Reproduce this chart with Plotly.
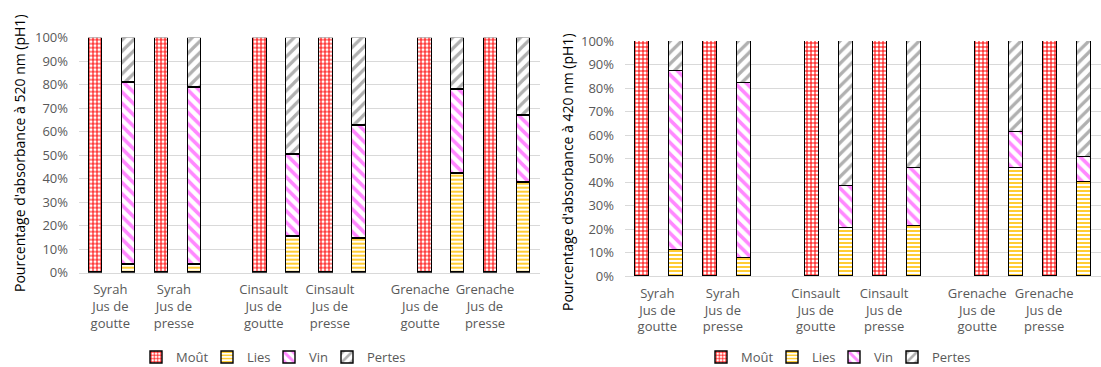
import plotly.graph_objects as go

# ---------------- data ----------------
categories = ["Syrah<br>Jus de<br>goutte", "Syrah<br>Jus de<br>presse",
              "Cinsault<br>Jus de<br>goutte", "Cinsault<br>Jus de<br>presse",
              "Grenache<br>Jus de<br>goutte", "Grenache<br>Jus de<br>presse"]
series_names = ["Moût", "Lies", "Vin", "Pertes"]

# 520 nm (left chart)
mout_520 = [100, 100, 100, 100, 100, 100]
lies_520 = [3.6, 3.3, 15.5, 14.5, 42.3, 38.3]
vin_520 = [77.4, 75.6, 34.9, 48.2, 35.7, 28.7]
pertes_520 = [19.0, 21.1, 49.6, 37.3, 22.0, 33.0]

# 420 nm (right chart)
mout_420 = [100, 100, 100, 100, 100, 100]
lies_420 = [11.1, 7.7, 20.6, 21.1, 46.1, 39.9]
vin_420 = [76.1, 74.3, 17.6, 24.9, 15.3, 10.7]
pertes_420 = [12.8, 18.0, 61.8, 54.0, 38.6, 49.4]

y_titles = ["Pourcentage d'absorbance à 520 nm (pH1)",
            "Pourcentage d'absorbance à 420 nm (pH1)"]

# ---------------- layout helpers ----------------
FONT = "Open Sans"
GREY = "#595959"
# each cultivar group holds two categories; one empty slot separates groups
mout_slots = [2 * i + i // 2 for i in range(len(categories))]
stack_slots = [s + 1 for s in mout_slots]
label_shift = [0.45, 0.38, 0.11, 0.12, -0.14, -0.17]
label_pos = [s + d for s, d in zip(mout_slots, label_shift)]

styles = {
    "Moût": dict(shape="+", fgcolor="#FF0000", size=4, solidity=0.45, lw=26),
    "Lies": dict(shape="-", fgcolor="#FFC000", size=4, solidity=0.4, lw=17),
    "Vin": dict(shape="\\", fgcolor="#FF88FF", size=8, solidity=0.45, lw=13),
    "Pertes": dict(shape="/", fgcolor="#B0B0B0", size=8, solidity=0.4, lw=42),
}

fig = go.Figure()

panels = [
    (mout_520, lies_520, vin_520, pertes_520, "x", "y", "legend"),
    (mout_420, lies_420, vin_420, pertes_420, "x2", "y2", "legend2"),
]

for mout, lies, vin, pertes, xa, ya, lg in panels:
    for name, vals, slots in [("Moût", mout, mout_slots), ("Lies", lies, stack_slots),
                              ("Vin", vin, stack_slots), ("Pertes", pertes, stack_slots)]:
        st = styles[name]
        fig.add_trace(go.Bar(
            x=slots, y=vals, name=name, xaxis=xa, yaxis=ya, legend=lg,
            width=0.41, legendwidth=st["lw"],
            marker=dict(color="white",
                        line=dict(color="#000000", width=1.4),
                        pattern=dict(shape=st["shape"], fgcolor=st["fgcolor"],
                                     bgcolor="white", size=st["size"],
                                     solidity=st["solidity"], fillmode="replace")),
        ))

xcommon = dict(range=[-0.5, 13.5], tickvals=label_pos, ticktext=categories,
               showgrid=False, zeroline=False, showline=True, linecolor="#D9D9D9",
               linewidth=1, ticks="", ticklabelstandoff=5, automargin=False,
               tickfont=dict(family=FONT, size=13, color=GREY))
ycommon = dict(range=[0, 100], dtick=10, ticksuffix="%", showgrid=True,
               gridcolor="#D9D9D9", gridwidth=1, zeroline=False, showline=False,
               ticks="", ticklabelstandoff=10, automargin=False,
               tickfont=dict(family=FONT, size=13, color=GREY))

legcommon = dict(orientation="h", xanchor="center", yanchor="middle",
                 font=dict(family=FONT, size=13, color=GREY),
                 bgcolor="rgba(0,0,0,0)", itemwidth=30, traceorder="normal")

fig.update_layout(
    width=1101, height=367,
    margin=dict(l=0, r=0, t=0, b=0, autoexpand=False),
    paper_bgcolor="white", plot_bgcolor="white",
    barmode="stack", bargap=0,
    font=dict(family=FONT, size=13, color=GREY),
    xaxis=dict(domain=[79 / 1101, 540 / 1101], anchor="y", **xcommon),
    yaxis=dict(domain=[(367 - 272.7) / 367, (367 - 37.7) / 367], anchor="x", **ycommon),
    xaxis2=dict(domain=[625 / 1101, 1.0], anchor="y2", **xcommon),
    yaxis2=dict(domain=[(367 - 276) / 367, (367 - 41) / 367], anchor="x2", **ycommon),
    legend=dict(x=275 / 1101, y=(367 - 357) / 367, **legcommon),
    legend2=dict(x=840 / 1101, y=(367 - 357) / 367, **legcommon),
    annotations=[
        dict(text=y_titles[0], textangle=-90, xref="paper", yref="paper",
             x=19 / 1101, y=(367 - 153) / 367, showarrow=False,
             font=dict(family=FONT, size=14, color="#000000"),
             xanchor="center", yanchor="middle"),
        dict(text=y_titles[1], textangle=-90, xref="paper", yref="paper",
             x=567 / 1101, y=(367 - 172) / 367, showarrow=False,
             font=dict(family=FONT, size=14, color="#000000"),
             xanchor="center", yanchor="middle"),
    ],
)

fig.write_html("out.html")
